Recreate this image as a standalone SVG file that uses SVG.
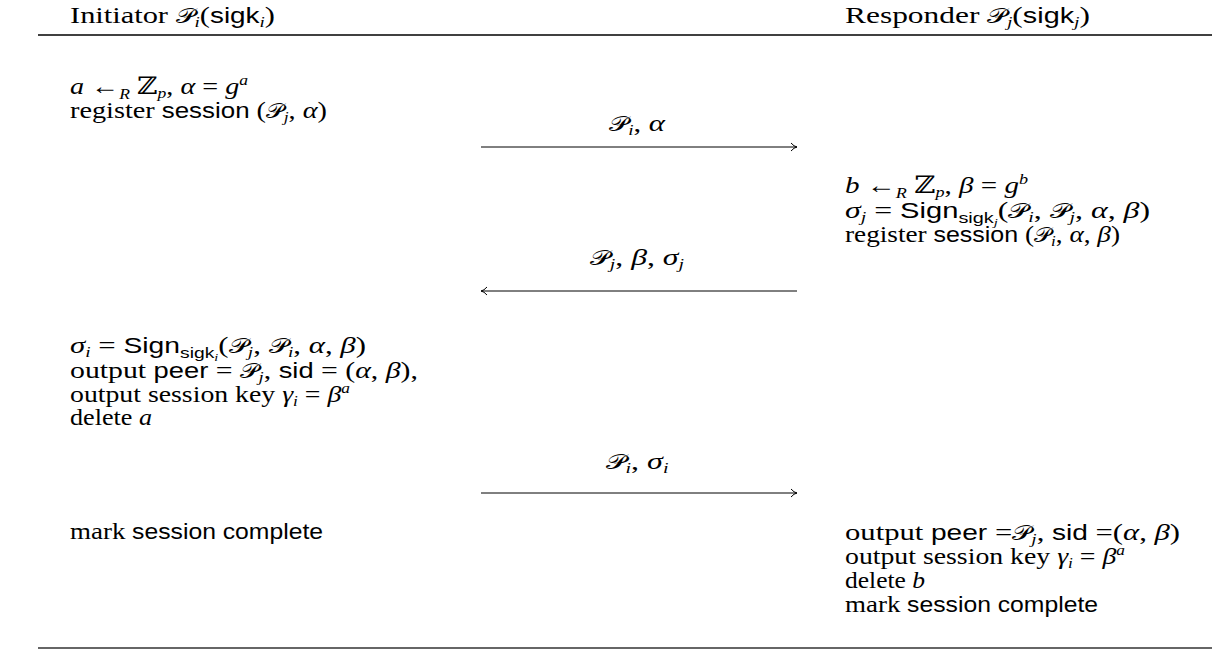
<svg xmlns="http://www.w3.org/2000/svg" width="1212" height="650" viewBox="0 0 1212 650">
<style>
text{font-family:"Liberation Serif","DejaVu Serif",serif;font-size:24px;fill:#000}
.it{font-style:italic}
.cal{font-family:"DejaVu Sans","Noto Sans",serif;font-style:normal;font-size:21px}
.sf{font-family:"Liberation Sans","DejaVu Sans",sans-serif;font-size:22px}
.sub{font-size:15px}
.ssub{font-size:11px}
.lbl{text-anchor:middle}
.rule{stroke:#000;stroke-width:1.6;fill:none}
.arr{stroke:#000;stroke-width:1;fill:none}
</style>
<defs>
<marker id="head" viewBox="0 0 8 10" refX="7" refY="5" markerWidth="8" markerHeight="10" markerUnits="userSpaceOnUse" orient="auto-start-reverse">
<path d="M1,1 Q4,4.5 7,5 Q4,5.5 1,9" fill="none" stroke="#000" stroke-width="1"/>
</marker>
</defs>
<g id="rules">
<line class="rule" x1="38" y1="35" x2="1212" y2="35"/>
<line x1="38" y1="648" x2="1212" y2="648" stroke="#666" stroke-width="2"/>
</g>
<g id="initiator-header"><text x="70" y="23" textLength="205" lengthAdjust="spacingAndGlyphs">Initiator <tspan class="cal it">𝒫</tspan><tspan class="sub it" dy="4">i</tspan><tspan dy="-4">(</tspan><tspan class="sf">sigk</tspan><tspan class="sub it" dy="4">i</tspan><tspan dy="-4">)</tspan></text></g>
<g id="responder-header"><text x="845" y="23" textLength="245" lengthAdjust="spacingAndGlyphs">Responder <tspan class="cal it">𝒫</tspan><tspan class="sub it" dy="4">j</tspan><tspan dy="-4">(</tspan><tspan class="sf">sigk</tspan><tspan class="sub it" dy="4">j</tspan><tspan dy="-4">)</tspan></text></g>
<g id="initiator-step1">
<text x="70" y="94" textLength="178" lengthAdjust="spacingAndGlyphs"><tspan class="it">a</tspan> ←<tspan class="sub it" dy="5">R</tspan><tspan dy="-5"> ℤ</tspan><tspan class="sub it" dy="4">p</tspan><tspan dy="-4">, </tspan><tspan class="it">α</tspan> = <tspan class="it">g</tspan><tspan class="sub it" dy="-9">a</tspan></text>
<text x="70" y="118" textLength="257" lengthAdjust="spacingAndGlyphs">register <tspan class="sf">session</tspan> (<tspan class="cal it">𝒫</tspan><tspan class="sub it" dy="4">j</tspan><tspan dy="-4">, </tspan><tspan class="it">α</tspan>)</text>
</g>
<g id="responder-step1">
<text x="845" y="193" textLength="183" lengthAdjust="spacingAndGlyphs"><tspan class="it">b</tspan> ←<tspan class="sub it" dy="5">R</tspan><tspan dy="-5"> ℤ</tspan><tspan class="sub it" dy="4">p</tspan><tspan dy="-4">, </tspan><tspan class="it">β</tspan> = <tspan class="it">g</tspan><tspan class="sub it" dy="-9">b</tspan></text>
<text x="845" y="218" textLength="305" lengthAdjust="spacingAndGlyphs"><tspan class="it">σ</tspan><tspan class="sub it" dy="4">j</tspan><tspan dy="-4"> = </tspan><tspan class="sf">Sign</tspan><tspan class="sf sub" dy="5">sigk</tspan><tspan class="ssub it" dy="3">j</tspan><tspan dy="-8">(</tspan><tspan class="cal it">𝒫</tspan><tspan class="sub it" dy="4">i</tspan><tspan dy="-4">, </tspan><tspan class="cal it">𝒫</tspan><tspan class="sub it" dy="4">j</tspan><tspan dy="-4">, </tspan><tspan class="it">α</tspan>, <tspan class="it">β</tspan>)</text>
<text x="845" y="242" textLength="275" lengthAdjust="spacingAndGlyphs">register <tspan class="sf">session</tspan> (<tspan class="cal it">𝒫</tspan><tspan class="sub it" dy="4">i</tspan><tspan dy="-4">, </tspan><tspan class="it">α</tspan>, <tspan class="it">β</tspan>)</text>
</g>
<g id="initiator-step2">
<text x="70" y="353" textLength="296" lengthAdjust="spacingAndGlyphs"><tspan class="it">σ</tspan><tspan class="sub it" dy="4">i</tspan><tspan dy="-4"> = </tspan><tspan class="sf">Sign</tspan><tspan class="sf sub" dy="5">sigk</tspan><tspan class="ssub it" dy="3">i</tspan><tspan dy="-8">(</tspan><tspan class="cal it">𝒫</tspan><tspan class="sub it" dy="4">j</tspan><tspan dy="-4">, </tspan><tspan class="cal it">𝒫</tspan><tspan class="sub it" dy="4">i</tspan><tspan dy="-4">, </tspan><tspan class="it">α</tspan>, <tspan class="it">β</tspan>)</text>
<text x="70" y="378" textLength="348" lengthAdjust="spacingAndGlyphs">output <tspan class="sf">peer</tspan> = <tspan class="cal it">𝒫</tspan><tspan class="sub it" dy="4">j</tspan><tspan dy="-4">, </tspan><tspan class="sf">sid</tspan> = (<tspan class="it">α</tspan>, <tspan class="it">β</tspan>),</text>
<text x="70" y="402" textLength="280" lengthAdjust="spacingAndGlyphs">output session key <tspan class="it">γ</tspan><tspan class="sub it" dy="4">i</tspan><tspan dy="-4"> = </tspan><tspan class="it">β</tspan><tspan class="sub it" dy="-9">a</tspan></text>
<text x="70" y="425" textLength="82" lengthAdjust="spacingAndGlyphs">delete <tspan class="it">a</tspan></text>
</g>
<g id="initiator-step3"><text x="70" y="539" textLength="253" lengthAdjust="spacingAndGlyphs">mark <tspan class="sf">session complete</tspan></text></g>
<g id="responder-step2">
<text x="845" y="540" textLength="335" lengthAdjust="spacingAndGlyphs">output <tspan class="sf">peer</tspan> =<tspan class="cal it">𝒫</tspan><tspan class="sub it" dy="4">j</tspan><tspan dy="-4">, </tspan><tspan class="sf">sid</tspan> =(<tspan class="it">α</tspan>, <tspan class="it">β</tspan>)</text>
<text x="845" y="564" textLength="280" lengthAdjust="spacingAndGlyphs">output session key <tspan class="it">γ</tspan><tspan class="sub it" dy="4">i</tspan><tspan dy="-4"> = </tspan><tspan class="it">β</tspan><tspan class="sub it" dy="-9">a</tspan></text>
<text x="845" y="588" textLength="80" lengthAdjust="spacingAndGlyphs">delete <tspan class="it">b</tspan></text>
<text x="845" y="612" textLength="253" lengthAdjust="spacingAndGlyphs">mark <tspan class="sf">session complete</tspan></text>
</g>
<g id="connectors">
<line class="arr" x1="481" y1="147" x2="797" y2="147" marker-end="url(#head)"/>
<line class="arr" x1="797" y1="291" x2="481" y2="291" marker-end="url(#head)"/>
<line class="arr" x1="481" y1="493" x2="797" y2="493" marker-end="url(#head)"/>
<text class="lbl" x="637" y="131" textLength="56" lengthAdjust="spacingAndGlyphs"><tspan class="cal it">𝒫</tspan><tspan class="sub it" dy="4">i</tspan><tspan dy="-4">, </tspan><tspan class="it">α</tspan></text>
<text class="lbl" x="637" y="265" textLength="94" lengthAdjust="spacingAndGlyphs"><tspan class="cal it">𝒫</tspan><tspan class="sub it" dy="4">j</tspan><tspan dy="-4">, </tspan><tspan class="it">β</tspan>, <tspan class="it">σ</tspan><tspan class="sub it" dy="4">j</tspan></text>
<text class="lbl" x="637" y="469" textLength="63" lengthAdjust="spacingAndGlyphs"><tspan class="cal it">𝒫</tspan><tspan class="sub it" dy="4">i</tspan><tspan dy="-4">, </tspan><tspan class="it">σ</tspan><tspan class="sub it" dy="4">i</tspan></text>
</g>
</svg>
